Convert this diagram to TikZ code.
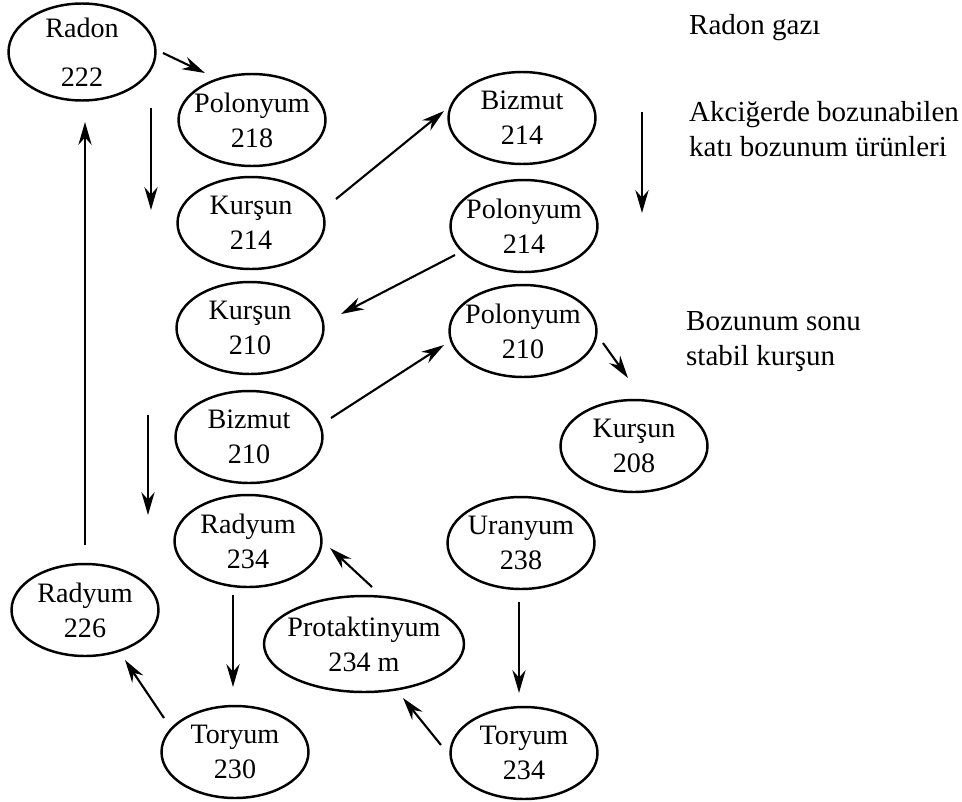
\documentclass[tikz,border=0pt]{standalone}
\usepackage{fontspec}
\setmainfont{Liberation Serif}
\usetikzlibrary{arrows.meta,shapes.geometric}
\tikzset{isotope/.style={ellipse,draw,line width=1.4pt,inner sep=-8pt,minimum width=2.94cm,minimum height=1.84cm,align=center,font=\fontsize{16}{20}\selectfont},
  decay/.style={-{Stealth[length=13pt,width=7.5pt]},line width=1.2pt},
  note/.style={anchor=west,align=left,font=\fontsize{16.5}{20}\selectfont}}

\begin{document}
\begin{tikzpicture}[x=0.02cm,y=-0.02cm]
  \useasboundingbox (0,0) rectangle (962,801);
  \node (rn222) [isotope,minimum height=1.94cm] at (82,52)  {Radon\\[8pt]222};
  \node (po218) [isotope] at (252,120) {Polonyum\\218};
  \node (ku214) [isotope] at (251,223) {Kurşun\\214};
  \node (ku210) [isotope] at (250,328) {Kurşun\\210};
  \node (bi210) [isotope] at (249,437) {Bizmut\\210};
  \node (ra234) [isotope] at (248,541) {Radyum\\234};
  \node (to230) [isotope] at (235,752) {Toryum\\230};
  \node (ra226) [isotope] at (85,610)  {Radyum\\226};
  \node (pr234) [isotope,minimum width=4cm,minimum height=1.92cm] at (364,644) {Protaktinyum\\234 m};
  \node (ur238) [isotope] at (521,543) {Uranyum\\238};
  \node (to234) [isotope] at (524,753) {Toryum\\234};
  \node (bi214) [isotope] at (522,118) {Bizmut\\214};
  \node (po214) [isotope] at (524,226) {Polonyum\\214};
  \node (po210) [isotope] at (523,331) {Polonyum\\210};
  \node (ku208) [isotope] at (634,446) {Kurşun\\208};

  \node (gas)    [note] at (683,28)  {Radon gazı};
  \node (solid)  [note] at (683,129) {Akciğerde bozunabilen\\katı bozunum ürünleri};
  \node (stable) [note] at (680,342) {Bozunum sonu\\stabil kurşun};

  \coordinate (d1a) at (151,108);  \coordinate (d1b) at (151,210);
  \coordinate (d2a) at (148,415);  \coordinate (d2b) at (148,515);
  \coordinate (d3a) at (642,112);  \coordinate (d3b) at (642,213);

  \path ([shift={(81,1)}]rn222.center)   edge[decay] ([shift={(-47,-47)}]po218.center)
        ([shift={(0,-65)}]ra226.center)  edge[decay] ([shift={(3,70)}]rn222.center)
        ([shift={(85,-24)}]ku214.center) edge[decay] ([shift={(-78,-7)}]bi214.center)
        ([shift={(-69,29)}]po214.center) edge[decay] ([shift={(91,-14)}]ku210.center)
        ([shift={(82,-19)}]bi210.center) edge[decay] ([shift={(-79,14)}]po210.center)
        ([shift={(80,12)}]po210.center)  edge[decay] ([shift={(-6,-68)}]ku208.center)
        ([shift={(-15,54)}]ra234.center) edge[decay] ([shift={(-2,-65)}]to230.center)
        ([shift={(-71,-34)}]to230.center) edge[decay] ([shift={(40,50)}]ra226.center)
        ([shift={(8,-57)}]pr234.center)  edge[decay] ([shift={(82,7)}]ra234.center)
        ([shift={(-2,59)}]ur238.center)  edge[decay] ([shift={(-5,-60)}]to234.center)
        ([shift={(-83,-8)}]to234.center) edge[decay] ([shift={(39,54)}]pr234.center)
        (d1a) edge[decay] (d1b)  % free arrows
        (d2a) edge[decay] (d2b)
        (d3a) edge[decay] (d3b);
\end{tikzpicture}
\end{document}
